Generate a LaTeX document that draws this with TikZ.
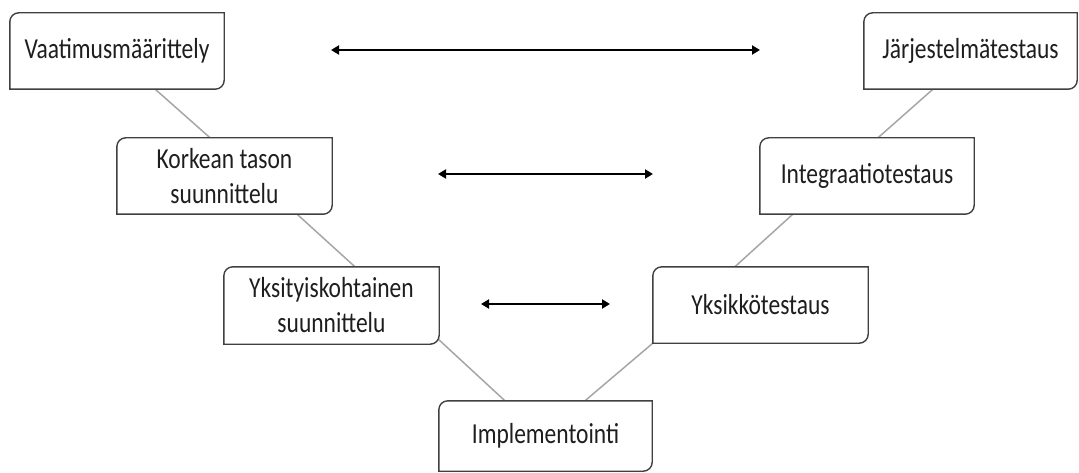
\documentclass[tikz,border=0pt]{standalone}
\usepackage{fontspec}
\setmainfont{Carlito}[FakeStretch=0.81]
\usetikzlibrary{arrows.meta,calc}
\definecolor{boxborder}{HTML}{404040}
\definecolor{linkgray}{HTML}{A6A6A6}
\definecolor{txt}{HTML}{1E1E1E}
\tikzset{
  vbox/.style={minimum width=214pt, minimum height=76pt, inner sep=0pt, align=center,
    text=txt, font=\fontsize{29}{35}\selectfont},
  vlink/.style={draw=linkgray, line width=1.5pt},
  varrow/.style={draw=black, line width=2pt, {Triangle[length=8pt,width=9pt]}-{Triangle[length=8pt,width=9pt]}},
}
\newcommand{\vshape}[1]{%
  \draw[draw=boxborder, line width=1.4pt, fill=white]
    (#1.south west) -- ([yshift=-9pt]#1.north west)
    arc[start angle=180, end angle=90, radius=9pt]
    -- (#1.north east) -- ([yshift=9pt]#1.south east)
    arc[start angle=0, end angle=-90, radius=9pt] -- cycle;}
\begin{document}
\begin{tikzpicture}[x=1pt,y=-1pt]
\useasboundingbox (0,0) rectangle (1079,473);
% node placement (text drawn later on top)
\path
  (117,51)    node[vbox] (V) {}
  (970.5,51)  node[vbox, minimum width=213pt] (J) {}
  (224.5,176) node[vbox, minimum width=215pt] (K) {}
  (867,176)   node[vbox] (I) {}
  (331.5,305.5) node[vbox, minimum width=215pt, minimum height=77pt] (Y) {}
  (760.5,305) node[vbox, minimum width=215pt] (U) {}
  (545.5,436) node[vbox, minimum width=213pt, minimum height=70pt] (M) {};
% gray links
\draw[vlink] ($(V.south west)!0.678!(V.south east)$) -- ($(K.north west)!0.433!(K.north east)$);
\draw[vlink] ($(K.south west)!0.837!(K.south east)$) -- ($(Y.north west)!0.609!(Y.north east)$);
\draw[vlink] ([xshift=-2pt,yshift=6pt]Y.south east) -- ($(M.north west)!0.31!(M.north east)$);
\draw[vlink] (U.south west) -- ($(M.north west)!0.685!(M.north east)$);
\draw[vlink] ($(U.north west)!0.381!(U.north east)$) -- ($(I.south west)!0.154!(I.south east)$);
\draw[vlink] ($(I.north west)!0.551!(I.north east)$) -- ($(J.south west)!0.324!(J.south east)$);
% boxes
\foreach \n in {V,J,K,I,Y,U,M}{\vshape{\n}}
% texts
\node[vbox] at (V) {Vaatimusmäärittely};
\node[vbox] at (J) {Järjestelmätestaus};
\node[vbox] at (K) {Korkean tason\\suunnittelu};
\node[vbox] at (I) {Integraatiotestaus};
\node[vbox] at (Y) {Yksityiskohtainen\\suunnittelu};
\node[vbox] at (U) {Yksikkötestaus};
\node[vbox] at (M) {Implementointi};
% arrows
\coordinate (a1l) at (331,50);  \coordinate (a1r) at (760,50);
\coordinate (a2l) at (438,174); \coordinate (a2r) at (653,174);
\coordinate (a3l) at (481,304); \coordinate (a3r) at (610,304);
\draw[varrow] (a1l) -- (a1r);
\draw[varrow] (a2l) -- (a2r);
\draw[varrow] (a3l) -- (a3r);
\end{tikzpicture}
\end{document}
